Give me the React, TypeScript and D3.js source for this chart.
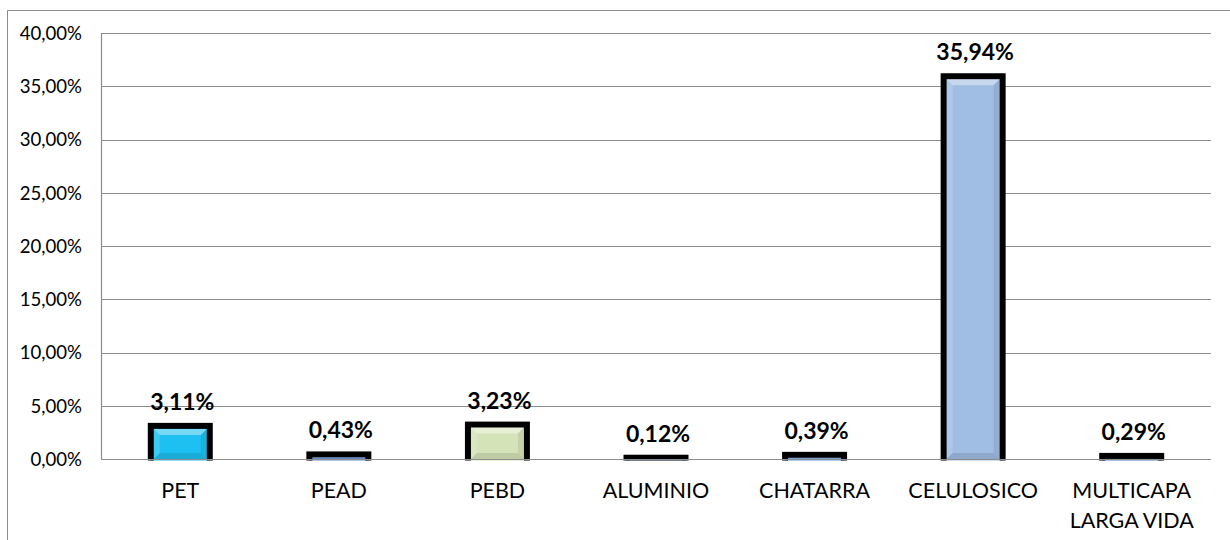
import * as d3 from 'd3'
import React from 'react'

const categories = ['PET', 'PEAD', 'PEBD', 'ALUMINIO', 'CHATARRA', 'CELULOSICO', 'MULTICAPA\nLARGA VIDA']
const values = [3.11, 0.43, 3.23, 0.12, 0.39, 35.94, 0.29]
const labels = ['3,11%', '0,43%', '3,23%', '0,12%', '0,39%', '35,94%', '0,29%']
const barColors = ['#1DC0F0', '#5B8FD6', '#D5E3B8', '#5B8FD6', '#5B9BE0', '#A0BDE3', '#4F81C9']
const yTicks = [0, 5, 10, 15, 20, 25, 30, 35, 40]

const W = 1230
const H = 540
const margin = { top: 33, right: 19, bottom: 81, left: 101 }
const font = 'Lato, "Noto Sans", sans-serif'
const grid = '#8C8C8C'

export default function App() {
    const x = d3
        .scaleBand<string>()
        .domain(categories)
        .range([margin.left, W - margin.right])
        .padding(0)
    const y = d3
        .scaleLinear()
        .domain([0, 40])
        .range([H - margin.bottom, margin.top])

    const fmt = (v: number) => d3.format('.2f')(v).replace('.', ',') + '%'
    const y0 = y(0)
    const barW = 59
    const sw = 6

    return (
        <svg width={W} height={H} style={{ position: 'absolute', left: 0, top: 0 }}>
            <defs>
                <clipPath id="plotClip">
                    <rect x={0} y={0} width={W} height={y0 + 1.5} />
                </clipPath>
            </defs>
            {/* outer chart frame */}
            <line x1={7.5} x2={7.5} y1={10.5} y2={H} stroke={grid} />
            <line x1={7.5} x2={W} y1={10.5} y2={10.5} stroke={grid} />

            {/* gridlines & y labels */}
            {yTicks.map((t) => (
                <g key={t}>
                    <line
                        x1={margin.left}
                        x2={W - margin.right}
                        y1={Math.round(y(t)) + 0.5}
                        y2={Math.round(y(t)) + 0.5}
                        stroke={grid}
                        strokeWidth={1.2}
                    />
                    <text
                        x={82}
                        y={y(t) + 6.8}
                        textAnchor="end"
                        fontFamily={font}
                        fontSize={18.6}
                        fill="#000"
                    >
                        {fmt(t)}
                    </text>
                </g>
            ))}
            <line
                x1={margin.left + 0.5}
                x2={margin.left + 0.5}
                y1={y(40)}
                y2={y0}
                stroke={grid}
                strokeWidth={1.2}
            />

            {/* bars */}
            <g clipPath="url(#plotClip)">
                {categories.map((c, i) => {
                    const cx = (x(c) || 0) + x.bandwidth() / 2
                    const bx = cx - barW / 2
                    const by = y(values[i])
                    const bh = y0 - by
                    // inner visible area
                    const ix0 = bx + sw / 2
                    const ix1 = bx + barW - sw / 2
                    const iy0 = by + sw / 2
                    const iy1 = y0
                    const bev = Math.max(0, Math.min(6, (iy1 - iy0) / 2))
                    return (
                        <g key={c}>
                            <rect
                                x={bx}
                                y={by}
                                width={barW}
                                height={bh + sw}
                                fill={barColors[i]}
                                stroke="#000"
                                strokeWidth={sw}
                            />
                            {iy1 - iy0 > 0 && (
                                <>
                                    <polygon
                                        points={`${ix0},${iy0} ${ix1},${iy0} ${ix1 - bev},${iy0 + bev} ${ix0 + bev},${iy0 + bev}`}
                                        fill="#fff"
                                        fillOpacity={0.4}
                                    />
                                    <polygon
                                        points={`${ix0},${iy0} ${ix0 + bev},${iy0 + bev} ${ix0 + bev},${iy1 - bev} ${ix0},${iy1}`}
                                        fill="#fff"
                                        fillOpacity={0.15}
                                    />
                                    <polygon
                                        points={`${ix1},${iy0} ${ix1 - bev},${iy0 + bev} ${ix1 - bev},${iy1 - bev} ${ix1},${iy1}`}
                                        fill="#000"
                                        fillOpacity={0.08}
                                    />
                                    <polygon
                                        points={`${ix0},${iy1} ${ix0 + bev},${iy1 - bev} ${ix1 - bev},${iy1 - bev} ${ix1},${iy1}`}
                                        fill="#000"
                                        fillOpacity={0.1}
                                    />
                                </>
                            )}
                        </g>
                    )
                })}
            </g>
            <line x1={margin.left} x2={W - margin.right} y1={Math.round(y0) + 0.5} y2={Math.round(y0) + 0.5} stroke={grid} strokeWidth={1.2} />

            {/* data labels */}
            {categories.map((c, i) => (
                <text
                    key={c}
                    x={(x(c) || 0) + x.bandwidth() / 2 + 2}
                    y={y(values[i]) - 16}
                    textAnchor="middle"
                    fontFamily={font}
                    fontWeight="bold"
                    fontSize={23}
                    fill="#000"
                >
                    {labels[i]}
                </text>
            ))}

            {/* category labels */}
            {categories.map((c) => (
                <text
                    key={c}
                    x={(x(c) || 0) + x.bandwidth() / 2}
                    y={498}
                    textAnchor="middle"
                    fontFamily={font}
                    fontSize={21.5}
                    fill="#000"
                >
                    {c.split('\n').map((line, j) => (
                        <tspan key={j} x={(x(c) || 0) + x.bandwidth() / 2} dy={j === 0 ? 0 : 30}>
                            {line}
                        </tspan>
                    ))}
                </text>
            ))}
        </svg>
    )
}
